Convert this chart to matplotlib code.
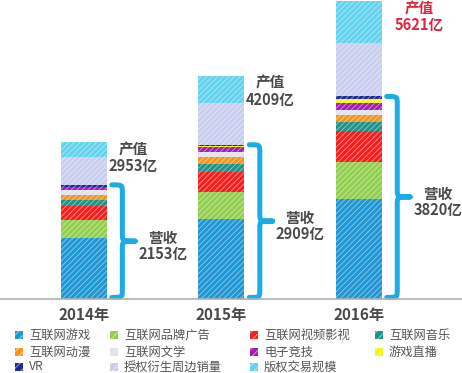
import matplotlib
matplotlib.use("Agg")
import matplotlib.pyplot as plt
from matplotlib.path import Path
from matplotlib.patches import PathPatch, Rectangle
import numpy as np

plt.rcParams['font.family'] = ['Noto Sans CJK SC', 'DejaVu Sans']
plt.rcParams['hatch.linewidth'] = 0.6

# data (亿元)
years = ['2014年', '2015年', '2016年']
categories = ['互联网游戏', '互联网品牌广告', '互联网视频影视', '互联网音乐',
              '互联网动漫', '互联网文学', '电子竞技', '游戏直播', 'VR',
              '授权衍生周边销量', '版权交易规模']
game = [1145, 1505, 1890]
brand_ad = [350, 510, 690]
video = [250, 375, 590]
music = [120, 150, 170]
anime = [100, 130, 135]
literature = [90, 95, 95]
esports = [60, 95, 135]
live = [0, 30, 60]
vr = [38, 19, 55]
derivative = [520, 790, 1010]
copyright_trade = [280, 510, 791]
revenue = [2153, 2909, 3820]
output_value = [2953, 4209, 5621]

series = [game, brand_ad, video, music, anime, literature, esports, live, vr,
          derivative, copyright_trade]
colors = ['#1f97d4', '#92cf4f', '#f5201e', '#1c9488', '#f7931e', '#e1e2ea',
          '#a21fb5', '#f5f50a', '#1c2a9a', '#c9ceef', '#62d2ee']

fig = plt.figure(figsize=(4.62, 3.73), dpi=100)
ax = fig.add_axes([0, 74 / 373, 1, 299 / 373])

x = np.arange(len(years))
width = 0.335
bottom = np.zeros(len(years))
for vals, c in zip(series, colors):
    ax.bar(x, vals, width, bottom=bottom, color=c, edgecolor=(1, 1, 1, 0.5),
           linewidth=0, hatch='//////')
    bottom += np.array(vals)

ax.set_xlim(-0.611, 2.75)
ax.set_ylim(0, 5640)
for s in ['top', 'right', 'left']:
    ax.spines[s].set_visible(False)
ax.spines['bottom'].set_color('#b0b0b0')
ax.spines['bottom'].set_linewidth(1.2)
ax.set_yticks([])
ax.set_xticks(x)
ax.set_xticklabels(years, fontsize=11, color='#4a4a4a', fontweight='bold')
ax.tick_params(axis='x', length=0, pad=6)


def brace(ax, x0, y0, y1, w, r):
    xm = x0 + w * 0.45
    ym = (y0 + y1) / 2
    verts = [(x0, y1), (xm, y1), (xm, y1), (xm, y1 - r),
             (xm, ym + r),
             (xm, ym), (xm, ym), (x0 + w, ym),
             (xm, ym), (xm, ym), (xm, ym - r),
             (xm, y0 + r),
             (xm, y0), (xm, y0), (x0, y0)]
    codes = [Path.MOVETO, Path.CURVE4, Path.CURVE4, Path.CURVE4,
             Path.LINETO,
             Path.CURVE4, Path.CURVE4, Path.CURVE4,
             Path.CURVE4, Path.CURVE4, Path.CURVE4,
             Path.LINETO,
             Path.CURVE4, Path.CURVE4, Path.CURVE4]
    ax.add_patch(PathPatch(Path(verts, codes), fill=False, edgecolor='#1aace6',
                           linewidth=3.6, capstyle='round', joinstyle='round',
                           clip_on=False))


txt = '#4a4a4a'
for i in range(len(years)):
    x0 = x[i] + width / 2 + 0.035
    brace(ax, x0, 30, revenue[i], 0.17, 140)
    ax.text(x0 + 0.37, revenue[i] / 2 - 80, '营收\n%d亿' % revenue[i],
            ha='center', va='center', fontsize=10.5, color=txt,
            fontweight='bold', linespacing=1.05)
    last = i == len(years) - 1
    col = '#e0243a' if last else txt
    ax.text(x[i] + width / 2 + (0.09 if last else 0.01), output_value[i] - 290,
            '产值\n%d亿' % output_value[i], ha='left', va='center',
            fontsize=10.5, color=col, fontweight='bold',
            linespacing=1.05, multialignment='center')

# legend, row by row
col_x = [15, 110, 250, 375]
row_y = [335, 352, 367]
for k, (name, c) in enumerate(zip(categories, colors)):
    r, cidx = divmod(k, 4)
    px, py = col_x[cidx], row_y[r]
    fig.add_artist(Rectangle((px / 462, 1 - (py + 4) / 373), 8 / 462,
                             8 / 373, transform=fig.transFigure,
                             facecolor=c, edgecolor=(1, 1, 1, 0.6),
                             linewidth=0, hatch='////'))
    fig.text((px + 14) / 462, 1 - py / 373, name, ha='left', va='center',
             fontsize=8.8, color='#555555')

fig.savefig('out.png', dpi=100)
